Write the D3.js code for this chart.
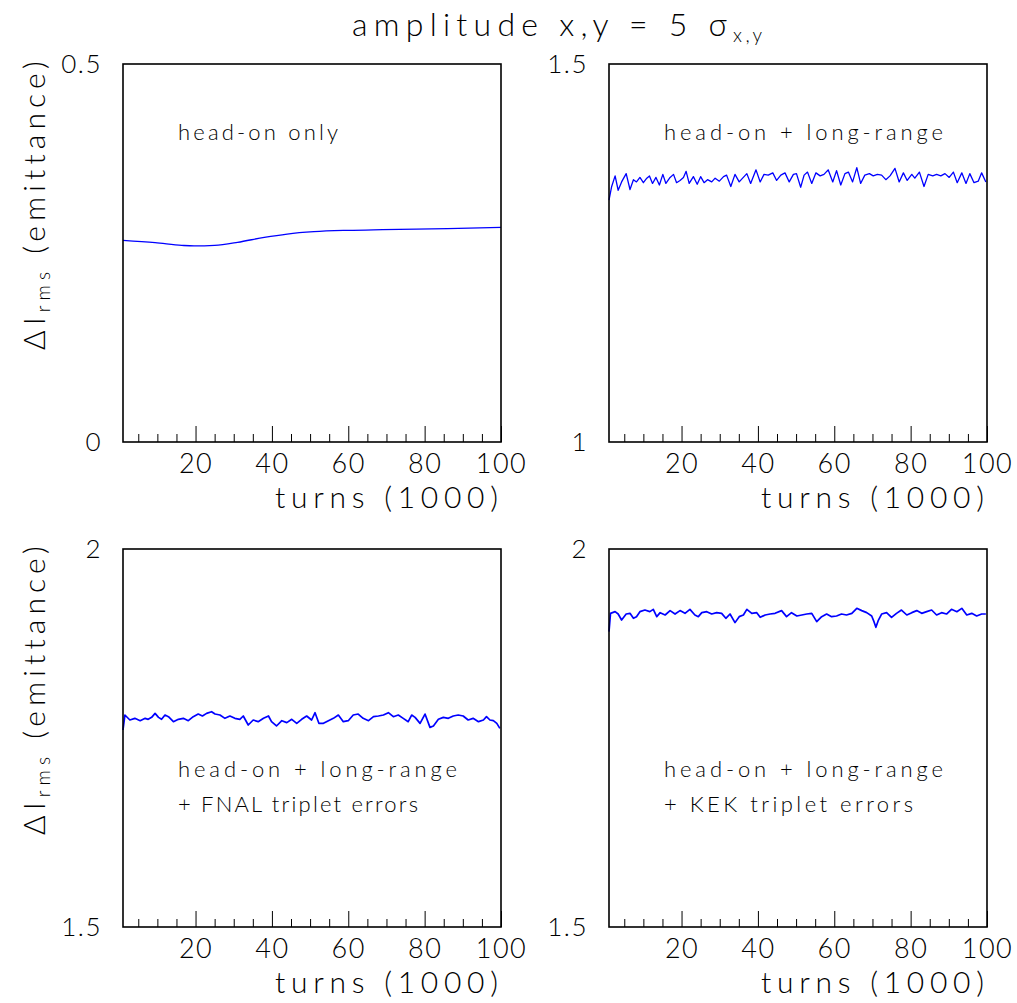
<!DOCTYPE html>
<html><head><meta charset="utf-8">
<script src="https://cdn.jsdelivr.net/npm/d3@7"></script>
<style>
body{margin:0;background:#fff}
svg{display:block}
text{font-family:Lato,'DejaVu Sans',sans-serif;font-weight:300;fill:#000}
</style>
</head><body><svg id="c" width="1017" height="1003"></svg>
<script>
// ---------------- data ----------------
const titleMain = "amplitude x,y = 5 σ";
const titleSub = "x,y";
const xTitle = "turns (1000)";
const yTitleMain = "ΔI", yTitleSub = "rms", yTitleRest = " (emittance)";
const xDomain = [1, 100];
const xMajorTicks = [20, 40, 60, 80, 100];
const xMinorTicks = [5, 10, 15, 25, 30, 35, 45, 50, 55, 65, 70, 75, 85, 90, 95];
const yDomains = [[0, 0.5], [1, 1.5], [1.5, 2], [1.5, 2]];
const yTickLabels = [["0", "0.5"], ["1", "1.5"], ["1.5", "2"], ["1.5", "2"]];
const panelLabels = [
  ["head-on only"],
  ["head-on + long-range"],
  ["head-on + long-range", "+ FNAL triplet errors"],
  ["head-on + long-range", "+ KEK triplet errors"]
];

const tlTurns = [1, 9.4, 16.4, 19.6, 25, 31, 38, 44, 51, 60, 69, 86, 100];
const tlValues = [0.2667, 0.2637, 0.2601, 0.2593, 0.2601, 0.2641, 0.2707, 0.2751, 0.2782, 0.2800, 0.2809, 0.2822, 0.2840];

const trTurns = [1,1.7,2.6,3.4,4.3,5.5,6.5,7.4,8.2,9.1,10.0,10.9,11.6,12.4,13.3,14.2,15.1,15.9,17.0,17.9,
  18.7,19.6,20.5,21.2,22.0,23.1,24.1,25.0,25.9,26.8,27.9,28.8,29.9,31.0,31.8,32.9,34.0,35.1,36.0,37.1,
  38.1,39.5,40.6,41.6,42.7,43.9,44.9,46.0,47.1,48.2,49.3,50.1,51.2,52.1,53.0,54.1,55.2,56.3,57.3,58.4,
  59.6,60.6,61.7,62.8,63.7,64.8,65.9,66.9,68.0,69.2,70.2,71.3,72.4,73.5,74.6,75.9,77.0,78.1,79.1,80.3,
  81.1,82.3,83.5,84.6,85.8,86.8,87.9,89.0,90.1,91.2,92.2,93.4,94.5,95.5,96.6,97.7,98.6,99.7];
const trValues = [1.320,1.338,1.352,1.333,1.344,1.355,1.334,1.347,1.344,1.350,1.343,1.349,1.352,1.342,1.350,1.340,1.354,1.342,1.350,1.354,
  1.343,1.346,1.350,1.358,1.342,1.351,1.341,1.351,1.343,1.347,1.344,1.349,1.345,1.351,1.353,1.338,1.354,1.344,1.349,1.355,
  1.342,1.360,1.344,1.354,1.353,1.356,1.346,1.353,1.356,1.344,1.354,1.355,1.337,1.353,1.357,1.342,1.356,1.352,1.354,1.360,
  1.344,1.359,1.340,1.355,1.357,1.344,1.363,1.342,1.353,1.355,1.352,1.354,1.353,1.347,1.352,1.362,1.344,1.356,1.346,1.354,
  1.349,1.357,1.338,1.354,1.352,1.354,1.352,1.355,1.350,1.357,1.343,1.356,1.342,1.355,1.343,1.345,1.356,1.344];

const blTurns = [1,1.5,2.8,4.1,5.5,6.8,7.6,8.5,9.4,10.3,11.1,12.0,12.9,14.2,15.5,16.8,18.1,19.4,20.7,21.8,
  22.9,24.2,25.1,26.4,27.7,29.0,30.3,31.6,32.5,33.8,35.1,36.4,37.8,39.1,39.9,41.2,42.6,43.9,45.2,46.5,
  47.8,49.1,50.4,51.3,52.3,53.5,54.8,56.1,57.4,58.7,60.0,61.3,62.6,63.9,65.3,66.6,67.9,69.2,70.5,71.8,
  73.1,74.4,75.7,76.6,77.5,78.8,80.1,81.4,82.3,83.6,84.9,86.2,87.5,88.8,90.1,91.4,92.7,94.1,95.4,96.2,
  97.1,98.0,98.9,99.7];
const blValues = [1.7606,1.7804,1.7738,1.7760,1.7729,1.7760,1.7747,1.7773,1.7826,1.7773,
  1.7747,1.7804,1.7782,1.7716,1.7747,1.7760,1.7729,1.7782,1.7817,1.7791,
  1.7826,1.7848,1.7817,1.7804,1.7760,1.7791,1.7760,1.7747,1.7791,1.7672,
  1.7738,1.7716,1.7760,1.7791,1.7716,1.7659,1.7729,1.7703,1.7747,1.7694,
  1.7747,1.7791,1.7738,1.7835,1.7694,1.7694,1.7729,1.7760,1.7804,1.7716,
  1.7729,1.7804,1.7817,1.7760,1.7729,1.7782,1.7791,1.7804,1.7835,1.7782,
  1.7804,1.7760,1.7716,1.7804,1.7773,1.7694,1.7817,1.7641,1.7659,1.7747,
  1.7773,1.7760,1.7791,1.7804,1.7791,1.7738,1.7760,1.7716,1.7738,1.7782,
  1.7738,1.7729,1.7694,1.7628];

const brTurns = [1,1.4,2.6,3.4,4.3,5.5,6.5,7.4,8.2,9.1,10.4,11.7,12.6,13.5,14.4,15.7,17.0,18.3,19.6,20.9,
  22.2,23.5,24.4,25.3,26.6,27.9,29.2,30.5,31.6,32.7,34.0,35.1,36.2,37.1,38.4,39.7,40.6,41.9,43.2,44.5,
  46.2,47.5,48.8,50.2,51.5,52.8,54.1,55.4,56.7,58.0,59.3,60.6,61.9,63.2,64.6,65.9,67.2,68.5,69.8,70.4,
  70.9,71.5,72.4,73.7,75.0,76.3,77.6,79.0,80.3,81.6,82.9,84.2,85.5,86.8,88.1,89.4,90.7,92.1,93.4,94.7,
  96.0,97.3,98.6,99.7];
const brValues = [1.8907,1.9149,1.9171,1.9140,1.9061,1.9140,1.9149,1.9083,1.9105,1.9171,
  1.9193,1.9171,1.9202,1.9105,1.9158,1.9127,1.9185,1.9140,1.9185,1.9149,
  1.9202,1.9127,1.9105,1.9158,1.9171,1.9140,1.9158,1.9149,1.9083,1.9140,
  1.9026,1.9105,1.9127,1.9202,1.9149,1.9158,1.9096,1.9127,1.9140,1.9149,
  1.9185,1.9105,1.9158,1.9114,1.9127,1.9140,1.9149,1.9039,1.9105,1.9140,
  1.9105,1.9114,1.9140,1.9127,1.9149,1.9215,1.9185,1.9158,1.9114,1.9039,
  1.8964,1.9052,1.9140,1.9158,1.9096,1.9149,1.9193,1.9127,1.9158,1.9185,
  1.9149,1.9171,1.9193,1.9127,1.9158,1.9140,1.9202,1.9171,1.9215,1.9127,
  1.9149,1.9114,1.9140,1.9140];

const seriesTurns = [tlTurns, trTurns, blTurns, brTurns];
const seriesValues = [tlValues, trValues, blValues, brValues];

// ---------------- layout ----------------
const L = {
  cols: [123, 609], rows: [64, 549], pw: 378, ph: 378,
  majorLen: 16, minorLen: 8,
  tickFont: 27, titleFont: 32, axisTitleFont: 30, labelFont: 22
};

const svg = d3.select("#c");

function fit(node, target) {
  const n = node.getNumberOfChars();
  const w = node.getComputedTextLength();
  d3.select(node).style("letter-spacing", ((target - w) / Math.max(1, n - 1)) + "px");
}

// title
const tt = svg.append("text").attr("x", 352).attr("y", 36);
const tMain = tt.append("tspan").style("font-size", L.titleFont + "px").text(titleMain);
const tSub = tt.append("tspan").attr("x", 733).attr("dy", 6).style("font-size", "19px").text(titleSub);
{
  const w = tt.node().getSubStringLength(0, titleMain.length);
  tMain.style("letter-spacing", ((375 - w) / (titleMain.length - 1)) + "px");
  const ws = tt.node().getSubStringLength(titleMain.length, titleSub.length);
  tSub.style("letter-spacing", ((29 - ws) / (titleSub.length - 1)) + "px");
}

const idx = [[0,0],[1,0],[0,1],[1,1]];
idx.forEach(([c, r], i) => {
  const x0 = L.cols[c], y0 = L.rows[r];
  const g = svg.append("g");
  const x = d3.scaleLinear().domain(xDomain).range([x0, x0 + L.pw]);
  const y = d3.scaleLinear().domain(yDomains[i]).range([y0 + L.ph, y0]);

  // curve
  const pts = seriesTurns[i].map((t, k) => [t, seriesValues[i][k]]);
  g.append("path").datum(pts)
    .attr("fill", "none").attr("stroke", "#0000ff").attr("stroke-width", r === 0 ? 1.3 : 1.7)
    .attr("stroke-linejoin", "round")
    .attr("d", d3.line().x(d => x(d[0])).y(d => y(d[1]))
      .curve(i === 0 ? d3.curveMonotoneX : d3.curveLinear));

  // x axis (ticks inside)
  const allTicks = xMinorTicks.concat(xMajorTicks).sort((a, b) => a - b);
  const xa = g.append("g").attr("transform", `translate(0,${y0 + L.ph})`)
    .call(d3.axisBottom(x).tickValues(allTicks).tickSize(0).tickPadding(12)
      .tickFormat(d => xMajorTicks.includes(d) ? String(d) : ""));
  xa.select(".domain").remove();
  xa.selectAll(".tick line").attr("stroke", "#000").attr("stroke-width", 1)
    .attr("y2", d => xMajorTicks.includes(d) ? -L.majorLen : -L.minorLen);
  xa.selectAll(".tick text").attr("fill", "#000")
    .style("font-family", "Lato,'DejaVu Sans',sans-serif").style("font-weight", 300)
    .style("font-size", L.tickFont + "px").style("letter-spacing", "1.5px");

  // y axis labels only
  const ya = g.append("g").attr("transform", `translate(${x0},0)`)
    .call(d3.axisLeft(y).tickValues(yDomains[i]).tickSize(0).tickPadding(21)
      .tickFormat((d, k) => yTickLabels[i][k]));
  ya.select(".domain").remove();
  ya.selectAll(".tick text").attr("fill", "#000")
    .style("font-family", "Lato,'DejaVu Sans',sans-serif").style("font-weight", 300)
    .style("font-size", "26px").style("letter-spacing", "1.5px");

  // frame
  g.append("rect").attr("x", x0).attr("y", y0).attr("width", L.pw).attr("height", L.ph)
    .attr("fill", "none").attr("stroke", "#000").attr("stroke-width", 1.6);

  // x title
  const xt = g.append("text").attr("x", x0 + L.pw - 226).attr("y", y0 + L.ph + 66)
    .style("font-size", L.axisTitleFont + "px").text(xTitle);
  fit(xt.node(), 223);

  // y title (left column only)
  if (c === 0) {
    const yt = g.append("text").attr("transform", `translate(45,${y0 + 286}) rotate(-90)`)
      .style("font-size", L.axisTitleFont + "px");
    yt.append("tspan").text(yTitleMain);
    yt.append("tspan").attr("dy", 5).style("font-size", "19px").text(yTitleSub);
    yt.append("tspan").attr("dy", -5).text(yTitleRest);
    fit(yt.node(), 288);
  }

  // panel labels
  const lx = x0 + 55;
  const targets = { "head-on only": 160, "head-on + long-range": 279,
    "+ FNAL triplet errors": 240, "+ KEK triplet errors": 249 };
  panelLabels[i].forEach((s, k) => {
    const ly = r === 0 ? y0 + 76 : y0 + 228 + k * 35;
    const t = g.append("text").attr("x", lx).attr("y", ly)
      .style("font-size", L.labelFont + "px").text(s);
    fit(t.node(), targets[s]);
  });
});
</script>
</body></html>
